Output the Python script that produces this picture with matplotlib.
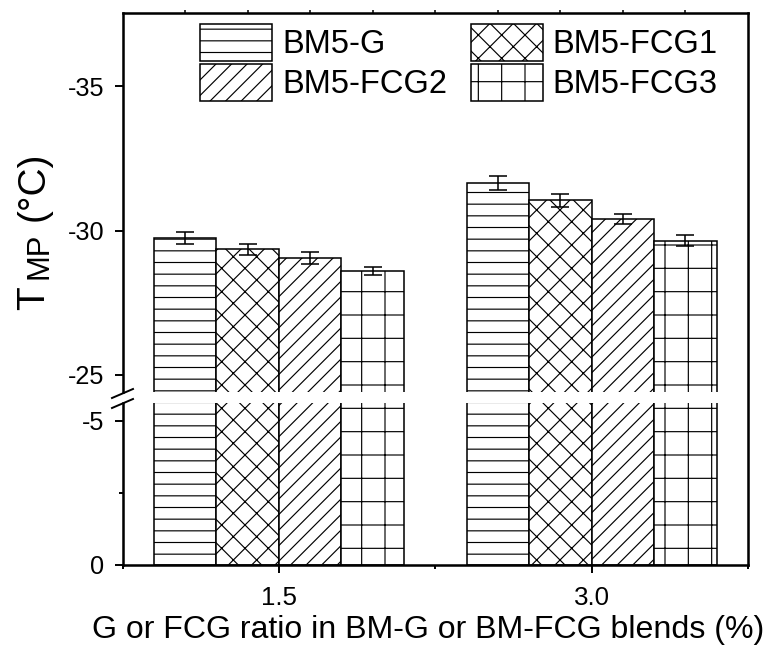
import numpy as np
import matplotlib
matplotlib.use('Agg')
import matplotlib.pyplot as plt
from matplotlib.lines import Line2D
from matplotlib.patches import Patch

plt.rcParams['font.family'] = ['Liberation Sans', 'DejaVu Sans']
plt.rcParams['hatch.linewidth'] = 0.6

# G / FCG content in the blends (%)
ratios = [1.5, 3.0]
ratio_labels = ['1.5', '3.0']

samples = ['BM5-G', 'BM5-FCG1', 'BM5-FCG2', 'BM5-FCG3']
hatches = ['--', 'xx', '///', '+']

# T_MP (degC) and standard deviation for each blend
tmp_g = [-29.75, -31.65]
tmp_fcg1 = [-29.35, -31.05]
tmp_fcg2 = [-29.05, -30.40]
tmp_fcg3 = [-28.60, -29.65]
err_g = [0.21, 0.25]
err_fcg1 = [0.20, 0.22]
err_fcg2 = [0.22, 0.17]
err_fcg3 = [0.15, 0.20]

values = [tmp_g, tmp_fcg1, tmp_fcg2, tmp_fcg3]
errors = [err_g, err_fcg1, err_fcg2, err_fcg3]

W, H, DPI = 776, 646, 140
fig = plt.figure(figsize=(W / DPI, H / DPI), dpi=DPI)

left, right = 122.5 / W, 748 / W
ax_up = fig.add_axes([left, 1 - 392 / H, right - left, (392 - 13) / H])
ax_lo = fig.add_axes([left, 1 - 565 / H, right - left, (565 - 403) / H])

bar_w = 0.3
offsets = (np.arange(len(samples)) - 1.5) * bar_w

for ax in (ax_up, ax_lo):
    for i, name in enumerate(samples):
        x = np.array(ratios) + offsets[i]
        ax.bar(x, values[i], width=bar_w, facecolor='white', edgecolor='black',
               hatch=hatches[i], linewidth=0.8, label=name)
    ax.set_xlim(0.75, 3.75)
    ax.spines['right'].set_visible(False)
    for s in ax.spines.values():
        s.set_linewidth(1.3)

# error bars only reach the upper segment
for i in range(len(samples)):
    x = np.array(ratios) + offsets[i]
    ax_up.errorbar(x, values[i], yerr=errors[i], fmt='none', ecolor='black',
                   elinewidth=0.8, capsize=4.4, capthick=0.8)

# upper segment of the broken axis
ax_up.set_ylim(-24.41, -37.53)
ax_up.set_yticks([-35, -30, -25])
ax_up.set_yticklabels(['-35', '-30', '-25'])
ax_up.spines['bottom'].set_visible(False)
ax_up.set_xticks(np.arange(1.05, 3.7, 0.3))
ax_up.tick_params(axis='x', bottom=False, top=True, labelbottom=False,
                  direction='out', length=1.5, width=0.8)

# lower segment
ax_lo.set_ylim(0, -5.61)
ax_lo.set_yticks([0, -5])
ax_lo.set_yticklabels(['0', '-5'])
ax_lo.set_yticks([-2.5], minor=True)
ax_lo.spines['top'].set_visible(False)
ax_lo.set_xticks(ratios)
ax_lo.set_xticklabels(ratio_labels)
ax_lo.set_xticks([0.75, 2.25, 3.75], minor=True)
ax_lo.tick_params(axis='x', which='major', direction='out', length=4.2, width=1.0,
                  labelsize=13.3, pad=6.5)
ax_lo.tick_params(axis='x', which='minor', direction='out', length=2.2, width=1.0)

for ax in (ax_up, ax_lo):
    ax.tick_params(axis='y', which='major', direction='out', length=4.2, width=1.0,
                   labelsize=13, pad=5)
    ax.tick_params(axis='y', which='minor', direction='out', length=2.2, width=1.0)

ax_lo.set_xlabel('G or FCG ratio in BM-G or BM-FCG blends (%)', fontsize=16.5)
ax_lo.xaxis.set_label_coords(0.489, -0.31)

# continuous right border and break marks on the left axis
fig.add_artist(Line2D([right, right], [1 - 565 / H, 1 - 13 / H], color='black',
                      lw=1.3, transform=fig.transFigure))
for y0 in (398, 408):
    fig.add_artist(Line2D([112 / W, 133 / W], [1 - y0 / H, 1 - (y0 - 9) / H],
                          color='black', lw=1.0, transform=fig.transFigure))

# y label: T with MP subscript, then the unit
ylab = dict(rotation=90, rotation_mode='anchor', ha='left', va='baseline')
fig.text(44 / W, 1 - 310 / H, 'T', fontsize=20, **ylab)
fig.text(48 / W, 1 - 279 / H, 'MP', fontsize=16, **ylab)
fig.text(44 / W, 1 - 221 / H, '(°C)', fontsize=20, **ylab)

handles = [Patch(facecolor='white', edgecolor='black', hatch=h, linewidth=0.8)
           for h in hatches]
order = [0, 2, 1, 3]
fig.legend([handles[i] for i in order], [samples[i] for i in order],
           ncol=2, loc='upper left', bbox_to_anchor=(200 / W, 1 - 24 / H),
           bbox_transform=fig.transFigure, frameon=False, fontsize=16.8,
           handlelength=2.2, handleheight=1.36, handletextpad=0.31,
           columnspacing=0.73, labelspacing=0.1, borderpad=0, borderaxespad=0)

fig.savefig('out.png', dpi=DPI)
